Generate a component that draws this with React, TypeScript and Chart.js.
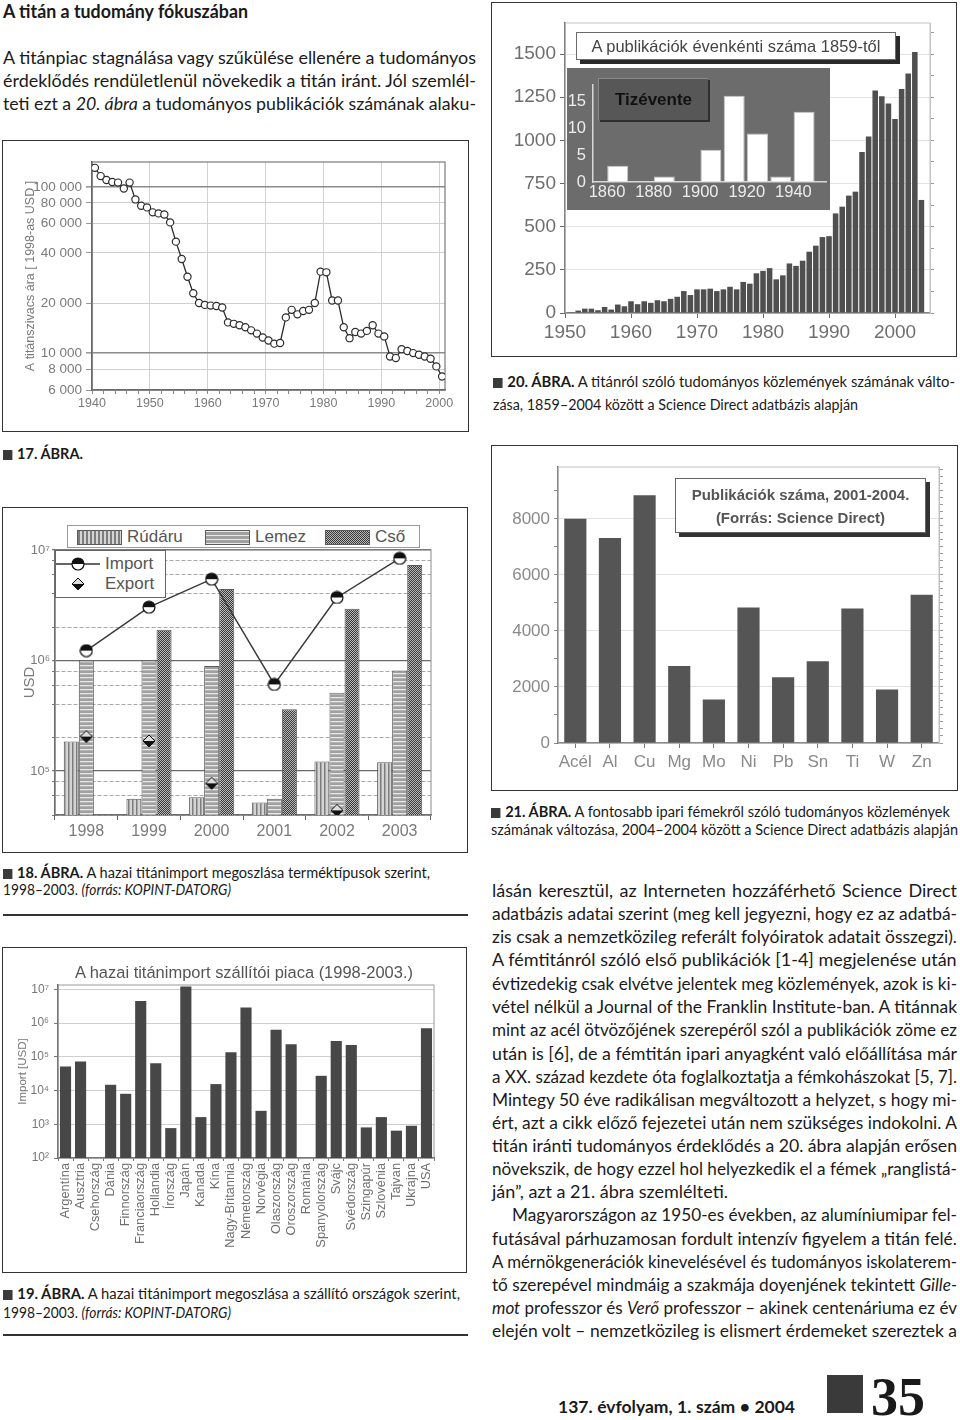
import React, { useEffect, useLayoutEffect, useRef } from 'react';
import { Chart, registerables } from 'chart.js';

Chart.register(...registerables);
Chart.defaults.font.family = '"Liberation Sans", "DejaVu Sans", sans-serif';
Chart.defaults.color = '#777';

const range = (a: number, b: number, step = 1) => {
  const out: number[] = [];
  for (let v = a; v <= b + 1e-9; v += step) out.push(Math.round(v * 1000) / 1000);
  return out;
};

// ===== 17. ÁBRA – titánszivacs ára (1998-as USD) =====
const priceYears = range(1940, 2000);
const priceValues = [
  130000, 116000, 110000, 107000, 106000, 97700, 106000, 84000, 77000, 75200,
  70200, 69200, 68200, 61100, 46800, 36800, 28800, 22900, 20000, 19500,
  19300, 19200, 18800, 15300, 15000, 14700, 14300, 13700, 13100, 12400,
  11900, 11400, 11500, 16400, 18200, 17100, 17900, 18200, 20000, 30900,
  30600, 20700, 20700, 14300, 12300, 13400, 13100, 13600, 14700, 13100,
  12600, 9550, 9330, 10560, 10300, 10000, 9770, 9550, 9250, 8320, 7240,
];
const priceTicks = [6000, 8000, 10000, 20000, 40000, 60000, 80000, 100000];
const priceYearTicks = range(1940, 2000, 2);
const priceAxisTitle = 'A titánszivacs ára [ 1998-as USD ]';

// ===== 20. ÁBRA – publikációk évenként =====
const pubYears = range(1951, 2004);
const pubCounts = [
  5, 14, 25, 25, 16, 35, 20, 49, 39, 68,
  51, 68, 59, 74, 68, 82, 94, 127, 104, 137,
  137, 141, 127, 137, 152, 137, 180, 170, 230, 244,
  260, 195, 218, 287, 273, 303, 355, 390, 440, 445,
  577, 616, 680, 703, 932, 1023, 1289, 1256, 1213, 1124,
  1298, 1388, 1512, 655,
];
const pubYearTicks = [1950, 1960, 1970, 1980, 1990, 2000];
const pubValueTicks = [0, 250, 500, 750, 1000, 1250, 1500];
const pubTitle = 'A publikációk évenkénti száma 1859-től';
const decadeStarts = [1860, 1870, 1880, 1890, 1900, 1910, 1920, 1930, 1940];
const decadeCounts = [3, 0, 1, 0, 6, 16, 9, 1, 13];
const decadeLabelTicks = [1860, 1880, 1900, 1920, 1940];
const decadeValueTicks = [0, 5, 10, 15];
const insetLabel = 'Tizévente';

// ===== 21. ÁBRA – fémek publikációi =====
const metals = ['Acél', 'Al', 'Cu', 'Mg', 'Mo', 'Ni', 'Pb', 'Sn', 'Ti', 'W', 'Zn'];
const metalPubs = [8000, 7320, 8840, 2750, 1550, 4840, 2350, 2920, 4800, 1910, 5290];
const metalTitle1 = 'Publikációk száma, 2001-2004.';
const metalTitle2 = '(Forrás: Science Direct)';

// ===== 18. ÁBRA – titánimport terméktípusok szerint =====
const importYears = ['1998', '1999', '2000', '2001', '2002', '2003'];
const rudaruValues = [185000, 56000, 58000, 52000, 122000, 120000];
const lemezValues = [1000000, 1000000, 890000, 56000, 512000, 813000];
const csoValues = [null, 1900000, 4430000, 362000, 2940000, 7330000];
const importValues = [1230000, 3040000, 5450000, 608000, 3720000, 8400000];
const exportValues = [205000, 187000, 77400, null, 44000, null];
const usdTicks = [40000, 60000, 80000, 100000, 200000, 400000, 600000, 800000,
  1000000, 2000000, 4000000, 6000000, 8000000, 10000000];

// ===== 19. ÁBRA – szállító országok =====
const countries = ['Argentína', 'Ausztria', 'Csehország', 'Dánia', 'Finnország', 'Franciaország',
  'Hollandia', 'Írország', 'Japán', 'Kanada', 'Kína', 'Nagy-Britannia', 'Németország', 'Norvégia',
  'Olaszország', 'Oroszország', 'Románia', 'Spanyolország', 'Svájc', 'Svédország', 'Szingapúr',
  'Szlovénia', 'Tajvan', 'Ukrajna', 'USA'];
const countryImports = [51500, 72400, null, 14800, 8000, 4500000, 64500, 770, 12000000, 1630,
  15500, 137000, 2870000, 2500, 627000, 236000, null, 27300, 295000, 225000, 807, 1630, 646, 903, 702000];
const countryTicks = [100, 1000, 10000, 100000, 1000000, 10000000];
const countryTitle = 'A hazai titánimport szállítói piaca (1998-2003.)';

// ---------- helpers ----------
const SUP: Record<string, string> = { '0': '⁰', '1': '¹', '2': '²', '3': '³', '4': '⁴', '5': '⁵', '6': '⁶', '7': '⁷', '8': '⁸', '9': '⁹' };
const isPow10 = (v: number) => {
  const e = Math.round(Math.log10(v));
  return Math.abs(v - Math.pow(10, e)) < 1e-6 * v;
};
const pow10Label = (v: number) => (isPow10(v) ? '10' + SUP[String(Math.round(Math.log10(v)))] : '');
const spaced = (v: number) => String(Math.round(v)).replace(/\B(?=(\d{3})+(?!\d))/g, ' ');
const setTicks = (vals: number[]) => (s: any) => { s.ticks = vals.map((v) => ({ value: v })); };
const fixW = (w: number) => (s: any) => { s.width = w; };
const fixH = (h: number) => (s: any) => { s.height = h; };
const NONE = 'rgba(0,0,0,0)';

const framePlugin = {
  id: 'frame',
  beforeDatasetsDraw(chart: any, _a: any, opts: any) {
    if (!opts || !opts.color) return;
    const { ctx, chartArea: a } = chart;
    ctx.save();
    ctx.strokeStyle = opts.color;
    ctx.lineWidth = opts.width || 1;
    ctx.strokeRect(a.left, a.top, a.right - a.left, a.bottom - a.top);
    ctx.restore();
  },
};
const bgPlugin = {
  id: 'bg',
  beforeDraw(chart: any, _a: any, opts: any) {
    if (!opts || !opts.color) return;
    const { ctx } = chart;
    ctx.save();
    ctx.fillStyle = opts.color;
    ctx.fillRect(0, 0, chart.width, chart.height);
    ctx.restore();
  },
};

const base = (padding: any) => ({
  animation: false,
  responsive: false,
  devicePixelRatio: 1,
  events: [],
  layout: { padding },
});

// ---------- chart builders ----------
const build17 = () => ({
  type: 'line',
  data: {
    datasets: [{
      data: priceYears.map((yr, i) => ({ x: yr + 0.5, y: priceValues[i] })),
      borderColor: '#2b2b2b', borderWidth: 1.3, tension: 0,
      pointRadius: 3.6, pointBorderWidth: 1.2, pointBackgroundColor: '#fff', pointBorderColor: '#2b2b2b',
    }],
  },
  options: {
    ...base({ top: 20, right: 22, left: 0, bottom: 0 }),
    plugins: { legend: { display: false }, tooltip: { enabled: false }, frame: { color: '#7a7a7a', width: 1.2 } },
    scales: {
      x: {
        type: 'linear', min: 1940, max: 2001,
        afterBuildTicks: setTicks(priceYearTicks),
        ticks: { autoSkip: false, maxRotation: 0, callback: (v: number) => (v % 10 === 0 ? String(v) : ''), color: '#7a7a7a', font: { size: 12.5 }, padding: 2 },
        grid: { color: (c: any) => (c.tick && c.tick.value % 10 === 0 ? '#d2d2d2' : NONE), tickColor: '#888', tickLength: 4 },
        border: { color: '#555', width: 1.5 },
        afterFit: fixH(40),
      },
      y: {
        type: 'logarithmic', min: 6000, max: 141000,
        afterBuildTicks: setTicks(priceTicks),
        ticks: { callback: (v: number) => spaced(v), color: '#7a7a7a', font: { size: 13.5 }, padding: 4 },
        grid: {
          color: (c: any) => (c.tick && (c.tick.value === 10000 || c.tick.value === 100000) ? '#8c8c8c' : '#cfcfcf'),
          lineWidth: (c: any) => (c.tick && (c.tick.value === 10000 || c.tick.value === 100000) ? 1.6 : 1),
          tickLength: 6, tickColor: '#999',
        },
        border: { color: '#555', width: 1.5 },
        title: { display: true, text: priceAxisTitle, color: '#7a7a7a', font: { size: 12.5 }, padding: { top: 19, bottom: 0 } },
        afterFit: fixW(88),
      },
    },
  },
  plugins: [framePlugin],
});

const build20 = () => ({
  type: 'bar',
  data: {
    datasets: [{
      data: pubYears.map((yr, i) => ({ x: yr, y: pubCounts[i] })),
      backgroundColor: '#4f4f4f', borderWidth: 0, barPercentage: 0.84, categoryPercentage: 1,
    }],
  },
  options: {
    ...base({ top: 19, right: 20, left: 0, bottom: 0 }),
    plugins: { legend: { display: false }, tooltip: { enabled: false }, frame: { color: '#c4c4c4', width: 1 } },
    scales: {
      x: {
        type: 'linear', min: 1950, max: 2005.3, offset: false,
        afterBuildTicks: setTicks(pubYearTicks),
        ticks: { callback: (v: number) => String(v), color: '#6e6e6e', font: { size: 19 }, maxRotation: 0, autoSkip: false, padding: 3 },
        grid: { color: NONE, tickColor: '#666', tickLength: 5, offset: false },
        border: { color: '#444', width: 1.5 },
        afterFit: fixH(42),
      },
      y: {
        min: 0, max: 1680,
        afterBuildTicks: setTicks(pubValueTicks),
        ticks: { callback: (v: number) => String(v), color: '#6e6e6e', font: { size: 19 }, padding: 4 },
        grid: { color: '#e3e3e3', tickColor: '#666', tickLength: 5 },
        border: { color: '#444', width: 1.5 },
        afterFit: fixW(72),
      },
      y2: {
        position: 'right', min: 0, max: 1680,
        afterBuildTicks: setTicks(range(0, 1625, 125)),
        ticks: { display: false },
        grid: { drawOnChartArea: false, tickColor: '#999', tickLength: 4 },
        border: { color: '#c4c4c4' },
        afterFit: fixW(5),
      },
    },
  },
  plugins: [framePlugin],
});

const buildInset = () => ({
  type: 'bar',
  data: {
    datasets: [{
      data: decadeStarts.map((d, i) => ({ x: d + 4.6, y: decadeCounts[i] })),
      backgroundColor: '#ffffff', borderColor: '#c8c8c8', borderWidth: 1, barPercentage: 0.9, categoryPercentage: 1,
    }],
  },
  options: {
    ...base({ top: 2, right: 4, left: 0, bottom: 0 }),
    plugins: { legend: { display: false }, tooltip: { enabled: false }, bg: { color: '#6c6c6c' } },
    scales: {
      x: {
        type: 'linear', min: 1854, max: 1954, offset: false,
        afterBuildTicks: setTicks(decadeLabelTicks),
        ticks: { callback: (v: number) => String(v), color: '#ececec', font: { size: 16.5 }, maxRotation: 0, autoSkip: false, padding: 1 },
        grid: { drawOnChartArea: false, drawTicks: false, offset: false },
        border: { color: '#d8d8d8', width: 1.5 },
        afterFit: fixH(28),
      },
      y: {
        min: 0, max: 18,
        afterBuildTicks: setTicks(decadeValueTicks),
        ticks: { callback: (v: number) => String(v), color: '#ececec', font: { size: 16.5 }, padding: 7 },
        grid: { drawOnChartArea: false, drawTicks: false },
        border: { color: '#d8d8d8', width: 1.5 },
        afterFit: fixW(26),
      },
    },
  },
  plugins: [bgPlugin],
});

const build21 = () => ({
  type: 'bar',
  data: {
    labels: metals,
    datasets: [{ data: metalPubs, backgroundColor: '#555', borderWidth: 0, barPercentage: 0.64, categoryPercentage: 1 }],
  },
  options: {
    ...base({ top: 20, right: 11, left: 0, bottom: 0 }),
    plugins: { legend: { display: false }, tooltip: { enabled: false }, frame: { color: '#c0c0c0', width: 1 } },
    scales: {
      x: {
        ticks: { color: '#8a8a8a', font: { size: 17 }, padding: 4, maxRotation: 0, autoSkip: false },
        grid: { color: NONE, tickColor: '#777', tickLength: 5, offset: false },
        border: { color: '#555', width: 1.5 },
        afterFit: fixH(46),
      },
      y: {
        min: 0, max: 9850,
        afterBuildTicks: setTicks(range(0, 9500, 500)),
        ticks: { callback: (v: number) => (v % 2000 === 0 ? String(v) : ''), color: '#8a8a8a', font: { size: 17 }, padding: 4 },
        grid: { color: (c: any) => (c.tick && c.tick.value % 2000 === 0 && c.tick.value > 0 ? '#e2e2e2' : NONE), tickColor: '#888', tickLength: 4 },
        border: { color: '#555', width: 1.5 },
        afterFit: fixW(65),
      },
      y2: {
        position: 'right', min: 0, max: 9850,
        afterBuildTicks: setTicks(range(0, 9750, 250)),
        ticks: { display: false },
        grid: { drawOnChartArea: false, tickColor: '#999', tickLength: 4 },
        border: { color: '#c0c0c0' },
        afterFit: fixW(6),
      },
    },
  },
  plugins: [framePlugin],
});

const makePattern = (canvas: HTMLCanvasElement, w: number, h: number, draw: (g: CanvasRenderingContext2D) => void) => {
  const c = document.createElement('canvas');
  c.width = w; c.height = h;
  const g = c.getContext('2d') as CanvasRenderingContext2D;
  draw(g);
  return (canvas.getContext('2d') as CanvasRenderingContext2D).createPattern(c, 'repeat');
};
const importMarker = () => {
  const c = document.createElement('canvas');
  c.width = 14; c.height = 14;
  const g = c.getContext('2d') as CanvasRenderingContext2D;
  g.beginPath(); g.arc(7, 7, 6, 0, 2 * Math.PI); g.fillStyle = '#fff'; g.fill();
  g.beginPath(); g.arc(7, 7, 6, Math.PI, 2 * Math.PI); g.closePath(); g.fillStyle = '#111'; g.fill();
  g.beginPath(); g.arc(7, 7, 6, 0, 2 * Math.PI); g.strokeStyle = '#111'; g.lineWidth = 1.2; g.stroke();
  return c;
};
const exportMarker = () => {
  const c = document.createElement('canvas');
  c.width = 14; c.height = 14;
  const g = c.getContext('2d') as CanvasRenderingContext2D;
  g.beginPath(); g.moveTo(1, 7); g.lineTo(7, 1); g.lineTo(13, 7); g.closePath(); g.fillStyle = '#ddd'; g.fill();
  g.beginPath(); g.moveTo(1, 7); g.lineTo(13, 7); g.lineTo(7, 13); g.closePath(); g.fillStyle = '#111'; g.fill();
  g.beginPath(); g.moveTo(1, 7); g.lineTo(7, 1); g.lineTo(13, 7); g.lineTo(7, 13); g.closePath();
  g.strokeStyle = '#111'; g.lineWidth = 1; g.stroke();
  return c;
};

const build18 = (canvas: HTMLCanvasElement) => {
  const pRud = makePattern(canvas, 4, 4, (g) => { g.fillStyle = '#d4d4d4'; g.fillRect(0, 0, 4, 4); g.fillStyle = '#7d7d7d'; g.fillRect(0, 0, 1.5, 4); });
  const pLem = makePattern(canvas, 4, 4, (g) => { g.fillStyle = '#a0a0a0'; g.fillRect(0, 0, 4, 4); g.fillStyle = '#e8e8e8'; g.fillRect(0, 0, 4, 1.3); });
  const pCso = makePattern(canvas, 2, 2, (g) => { g.fillStyle = '#b8b8b8'; g.fillRect(0, 0, 2, 2); g.fillStyle = '#3a3a3a'; g.fillRect(0, 0, 1, 1); g.fillRect(1, 1, 1, 1); });
  const imp = importMarker();
  const exp = exportMarker();
  const bar = { borderColor: '#5a5a5a', borderWidth: 1, categoryPercentage: 0.72, barPercentage: 1, order: 2 };
  return {
    type: 'bar',
    data: {
      labels: importYears,
      datasets: [
        { type: 'line', label: 'Import', data: importValues, borderColor: '#3a3a3a', borderWidth: 1.5, pointStyle: imp, pointRadius: 7, tension: 0, order: 0 },
        { type: 'line', label: 'Export', data: exportValues, showLine: false, pointStyle: exp, pointRadius: 7, order: 0 },
        { label: 'Rúdáru', data: rudaruValues, backgroundColor: pRud, ...bar },
        { label: 'Lemez', data: lemezValues, backgroundColor: pLem, ...bar },
        { label: 'Cső', data: csoValues, backgroundColor: pCso, ...bar },
      ],
    },
    options: {
      ...base({ top: 41, right: 35, left: 0, bottom: 0 }),
      plugins: { legend: { display: false }, tooltip: { enabled: false }, frame: { color: '#8a8a8a', width: 1 } },
      scales: {
        x: {
          ticks: { color: '#7a7a7a', font: { size: 16 }, padding: 2, maxRotation: 0 },
          grid: { color: NONE, tickColor: '#666', tickLength: 5 },
          border: { color: '#555', width: 1.5 },
          afterFit: fixH(36),
        },
        y: {
          type: 'logarithmic', min: 40000, max: 10000000,
          afterBuildTicks: setTicks(usdTicks),
          ticks: { callback: (v: number) => pow10Label(v), color: '#7a7a7a', font: { size: 13 }, padding: 2 },
          grid: {
            color: (c: any) => (c.tick && isPow10(c.tick.value) ? '#6a6a6a' : '#a8a8a8'),
            lineWidth: (c: any) => (c.tick && isPow10(c.tick.value) ? 1.3 : 1),
            tickLength: 3, tickColor: '#777',
          },
          border: { color: '#555', width: 1.5, dash: (c: any) => (c && c.tick && !isPow10(c.tick.value) ? [4, 2] : []) },
          title: { display: true, text: 'USD', color: '#7a7a7a', font: { size: 15 }, padding: { top: 17, bottom: 0 } },
          afterFit: fixW(51),
        },
      },
    },
    plugins: [framePlugin],
  };
};

const build19 = () => ({
  type: 'bar',
  data: {
    labels: countries,
    datasets: [{ data: countryImports, backgroundColor: '#474747', borderWidth: 0, barPercentage: 0.74, categoryPercentage: 1 }],
  },
  options: {
    ...base({ top: 36, right: 31, left: 0, bottom: 0 }),
    plugins: { legend: { display: false }, tooltip: { enabled: false }, frame: { color: '#9a9a9a', width: 1 } },
    scales: {
      x: {
        ticks: { color: '#707070', font: { size: 12.8 }, padding: 2, minRotation: 90, maxRotation: 90, autoSkip: false },
        grid: { color: NONE, tickColor: '#777', tickLength: 3 },
        border: { color: '#555', width: 1.5 },
        afterFit: fixH(113),
      },
      y: {
        type: 'logarithmic', min: 100, max: 13400000,
        afterBuildTicks: setTicks(countryTicks),
        ticks: { callback: (v: number) => pow10Label(v), color: '#777', font: { size: 12 }, padding: 5 },
        grid: { color: (c: any) => (c.tick && c.tick.value > 100 ? '#cfcfcf' : NONE), tickColor: '#777', tickLength: 4 },
        border: { color: '#555', width: 1.5 },
        title: { display: true, text: 'Import [USD]', color: '#777', font: { size: 11.5 }, padding: { top: 12, bottom: 0 } },
        afterFit: fixW(54),
      },
    },
  },
  plugins: [framePlugin],
});

// ---------- components ----------
function ChartCanvas({ x, y, w, h, build }: { x: number; y: number; w: number; h: number; build: (c: HTMLCanvasElement) => any }) {
  const ref = useRef<HTMLCanvasElement>(null);
  useEffect(() => {
    const canvas = ref.current as HTMLCanvasElement;
    const chart = new Chart(canvas, build(canvas));
    return () => chart.destroy();
  }, []);
  return <canvas ref={ref} width={w} height={h} style={{ position: 'absolute', left: x, top: y, width: w, height: h }} />;
}

function FitLine({ x, y, w, size = 18, weight = 400, lh = 22, family, color, children }: any) {
  const ref = useRef<HTMLSpanElement>(null);
  useLayoutEffect(() => {
    const fit = () => {
      const el = ref.current;
      if (!el) return;
      el.style.wordSpacing = '0px';
      el.style.transform = 'none';
      const nat = el.getBoundingClientRect().width;
      const n = ((el.textContent || '').match(/ /g) || []).length;
      if (nat < w - 0.5 && n > 0) el.style.wordSpacing = `${(w - nat) / n}px`;
      else if (nat > w) el.style.transform = `scaleX(${w / nat})`;
    };
    fit();
    const f = (document as any).fonts;
    if (f && f.ready) f.ready.then(fit);
  }, [w]);
  return (
    <div style={{ position: 'absolute', left: x, top: y - lh / 2, height: lh, lineHeight: `${lh}px`, whiteSpace: 'pre', fontSize: size, fontWeight: weight, fontFamily: family, color }}>
      <span ref={ref} style={{ display: 'inline-block', transformOrigin: '0 50%' }}>{children}</span>
    </div>
  );
}

const Sq = () => <span style={{ display: 'inline-block', width: 10, height: 10, background: '#3a3a3a', marginRight: 5, verticalAlign: '-1px' }} />;

const Box = ({ l, t, r, b }: { l: number; t: number; r: number; b: number }) => (
  <div style={{ position: 'absolute', left: l, top: t, width: r - l, height: b - t, border: '1.5px solid #333', boxSizing: 'border-box' }} />
);
const Rule = ({ y }: { y: number }) => (
  <div style={{ position: 'absolute', left: 3, top: y, width: 465, height: 1.5, background: '#333' }} />
);

const CHART_FONT = '"Liberation Sans", Arial, sans-serif';
const CAP = 15.5;

export default function App() {
  const R = 492;
  const RW = 465;
  const swatch = (bg: string, left: number) => (
    <div style={{ position: 'absolute', left, top: 530, width: 45, height: 15, background: bg, border: '1px solid #5a5a5a', boxSizing: 'border-box' }} />
  );
  const legText = (t: string, left: number, y: number) => (
    <div style={{ position: 'absolute', left, top: y - 10, lineHeight: '20px', fontSize: 17, color: '#555', fontFamily: CHART_FONT }}>{t}</div>
  );
  return (
    <div style={{ position: 'absolute', left: 0, top: 0, width: 960, height: 1420, background: '#fff', overflow: 'hidden', fontFamily: 'Lato, "Noto Sans", sans-serif', color: '#1a1a1a' }}>
      {/* left column text */}
      <FitLine x={3} y={11} w={245} size={18.5} weight={700}>A titán a tudomány fókuszában</FitLine>
      <FitLine x={3} y={57} w={473}>A titánpiac stagnálása vagy szűkülése ellenére a tudományos</FitLine>
      <FitLine x={3} y={80} w={473}>érdeklődés rendületlenül növekedik a titán iránt. Jól szemlél-</FitLine>
      <FitLine x={3} y={103} w={473}>teti ezt a <i>20. ábra</i> a tudományos publikációk számának alaku-</FitLine>

      {/* 17. ábra */}
      <Box l={2} t={140} r={469} b={432} />
      <ChartCanvas x={4} y={142} w={463} h={288} build={build17} />
      <FitLine x={3} y={453} w={80} size={CAP} lh={18}><Sq /><b>17. ÁBRA.</b></FitLine>

      {/* 18. ábra */}
      <Box l={2} t={507} r={468} b={853} />
      <ChartCanvas x={4} y={509} w={462} h={342} build={build18} />
      <div style={{ position: 'absolute', left: 67, top: 525, width: 353, height: 23, border: '1px solid #9a9a9a', background: '#fff', boxSizing: 'border-box' }} />
      {swatch('repeating-linear-gradient(90deg, #7d7d7d 0 1.5px, #d4d4d4 1.5px 4px)', 77)}
      {legText('Rúdáru', 127, 537)}
      {swatch('repeating-linear-gradient(0deg, #e8e8e8 0 1.3px, #a0a0a0 1.3px 4px)', 205)}
      {legText('Lemez', 255, 537)}
      {swatch('repeating-conic-gradient(#3a3a3a 0 25%, #b8b8b8 0 50%) 0 0 / 2px 2px', 325)}
      {legText('Cső', 375, 537)}
      <div style={{ position: 'absolute', left: 55, top: 550, width: 111, height: 48, border: '1px solid #666', background: '#fff', boxSizing: 'border-box' }} />
      <svg style={{ position: 'absolute', left: 55, top: 556 }} width={48} height={16}>
        <line x1={1} y1={8} x2={45} y2={8} stroke="#333" strokeWidth={1.5} />
        <path d="M17,8 A6,6 0 0 1 29,8 Z" fill="#111" />
        <path d="M17,8 A6,6 0 0 0 29,8 Z" fill="#fff" />
        <circle cx={23} cy={8} r={6} fill="none" stroke="#111" strokeWidth={1.2} />
      </svg>
      <svg style={{ position: 'absolute', left: 71, top: 577 }} width={14} height={14}>
        <polygon points="1,7 7,1 13,7" fill="#ddd" />
        <polygon points="1,7 13,7 7,13" fill="#111" />
        <polygon points="1,7 7,1 13,7 7,13" fill="none" stroke="#111" strokeWidth={1} />
      </svg>
      {legText('Import', 105, 564)}
      {legText('Export', 105, 584)}
      <FitLine x={3} y={872} w={427} size={CAP} lh={18}><Sq /><b>18. ÁBRA.</b> A hazai titánimport megoszlása terméktípusok szerint,</FitLine>
      <FitLine x={3} y={889} w={228} size={CAP} lh={18}>1998–2003. <i>(forrás: KOPINT-DATORG)</i></FitLine>
      <Rule y={914} />

      {/* 19. ábra */}
      <Box l={2} t={947} r={467} b={1273} />
      <ChartCanvas x={4} y={949} w={461} h={322} build={build19} />
      <FitLine x={75} y={973} w={338} size={16.8} family={CHART_FONT} color="#555">{countryTitle}</FitLine>
      <FitLine x={3} y={1293} w={457} size={CAP} lh={18}><Sq /><b>19. ÁBRA.</b> A hazai titánimport megoszlása a szállító országok szerint,</FitLine>
      <FitLine x={3} y={1312} w={228} size={CAP} lh={18}>1998–2003. <i>(forrás: KOPINT-DATORG)</i></FitLine>
      <Rule y={1334} />

      {/* 20. ábra */}
      <Box l={491} t={2} r={957} b={357} />
      <ChartCanvas x={493} y={4} w={462} h={351} build={build20} />
      <ChartCanvas x={567} y={68} w={263} h={142} build={buildInset} />
      <div style={{ position: 'absolute', left: 598, top: 78, width: 110, height: 42, background: '#575757', borderTop: '1px solid #8a8a8a', borderLeft: '1px solid #8a8a8a', boxShadow: '2px 2px 0 #2e2e2e', boxSizing: 'border-box', display: 'flex', alignItems: 'center', justifyContent: 'center', fontFamily: CHART_FONT, fontWeight: 700, fontSize: 17, color: '#111' }}>{insetLabel}</div>
      <div style={{ position: 'absolute', left: 576, top: 32, width: 320, height: 28, background: '#fff', border: '1px solid #6a6a6a', boxShadow: '4px 4px 0 #2a2a2a', boxSizing: 'border-box', display: 'flex', alignItems: 'center', justifyContent: 'center', fontFamily: CHART_FONT, fontSize: 16.5, color: '#444' }}>{pubTitle}</div>
      <FitLine x={493} y={381} w={462} size={CAP} lh={18}><Sq /><b>20. ÁBRA.</b> A titánról szóló tudományos közlemények számának válto-</FitLine>
      <FitLine x={493} y={404} w={365} size={CAP} lh={18}>zása, 1859–2004 között a Science Direct adatbázis alapján</FitLine>

      {/* 21. ábra */}
      <Box l={491} t={445} r={958} b={791} />
      <ChartCanvas x={493} y={447} w={463} h={342} build={build21} />
      <div style={{ position: 'absolute', left: 675, top: 478, width: 251, height: 55, background: '#fff', border: '1px solid #666', boxShadow: '4px 4px 0 #333', boxSizing: 'border-box', display: 'flex', flexDirection: 'column', alignItems: 'center', justifyContent: 'center', fontFamily: CHART_FONT, fontWeight: 700, fontSize: 15, lineHeight: '23px', color: '#555' }}>
        <div>{metalTitle1}</div>
        <div>{metalTitle2}</div>
      </div>
      <FitLine x={491} y={811} w={459} size={CAP} lh={18}><Sq /><b>21. ÁBRA.</b> A fontosabb ipari fémekről szóló tudományos közlemények</FitLine>
      <FitLine x={491} y={829} w={467} size={CAP} lh={18}>számának változása, 2004–2004 között a Science Direct adatbázis alapján</FitLine>

      {/* right column text */}
      <FitLine x={R} y={890} w={RW}>lásán keresztül, az Interneten hozzáférhető Science Direct</FitLine>
      <FitLine x={R} y={913} w={RW}>adatbázis adatai szerint (meg kell jegyezni, hogy ez az adatbá-</FitLine>
      <FitLine x={R} y={936} w={RW}>zis csak a nemzetközileg referált folyóiratok adatait összegzi).</FitLine>
      <FitLine x={R} y={959} w={RW}>A fémtitánról szóló első publikációk [1-4] megjelenése után</FitLine>
      <FitLine x={R} y={983} w={RW}>évtizedekig csak elvétve jelentek meg közlemények, azok is ki-</FitLine>
      <FitLine x={R} y={1006} w={RW}>vétel nélkül a Journal of the Franklin Institute-ban. A titánnak</FitLine>
      <FitLine x={R} y={1029} w={RW}>mint az acél ötvözőjének szerepéről szól a publikációk zöme ez</FitLine>
      <FitLine x={R} y={1053} w={RW}>után is [6], de a fémtitán ipari anyagként való előállítása már</FitLine>
      <FitLine x={R} y={1076} w={RW}>a XX. század kezdete óta foglalkoztatja a fémkohászokat [5, 7].</FitLine>
      <FitLine x={R} y={1099} w={RW}>Mintegy 50 éve radikálisan megváltozott a helyzet, s hogy mi-</FitLine>
      <FitLine x={R} y={1122} w={RW}>ért, azt a cikk előző fejezetei után nem szükséges indokolni. A</FitLine>
      <FitLine x={R} y={1145} w={RW}>titán iránti tudományos érdeklődés a 20. ábra alapján erősen</FitLine>
      <FitLine x={R} y={1168} w={RW}>növekszik, de hogy ezzel hol helyezkedik el a fémek „ranglistá-</FitLine>
      <FitLine x={R} y={1191} w={236}>ján”, azt a 21. ábra szemlélteti.</FitLine>
      <FitLine x={512} y={1214} w={445}>Magyarországon az 1950-es években, az alumíniumipar fel-</FitLine>
      <FitLine x={R} y={1238} w={RW}>futásával párhuzamosan fordult intenzív figyelem a titán felé.</FitLine>
      <FitLine x={R} y={1261} w={RW}>A mérnökgenerációk kinevelésével és tudományos iskolaterem-</FitLine>
      <FitLine x={R} y={1284} w={RW}>tő szerepével mindmáig a szakmája doyenjének tekintett <i>Gille-</i></FitLine>
      <FitLine x={R} y={1307} w={RW}><i>mot</i> professzor és <i>Verő</i> professzor – akinek centenáriuma ez év</FitLine>
      <FitLine x={R} y={1330} w={RW}>elején volt – nemzetközileg is elismert érdemeket szereztek a</FitLine>

      {/* footer */}
      <FitLine x={558} y={1407} w={237} size={17.5} weight={700}>137. évfolyam, 1. szám • 2004</FitLine>
      <div style={{ position: 'absolute', left: 827, top: 1375, width: 36, height: 38, background: '#3a3a3a' }} />
      <FitLine x={871} y={1397} w={62} size={54} lh={56} weight={700} family='"Liberation Serif", "DejaVu Serif", serif'>35</FitLine>
    </div>
  );
}
